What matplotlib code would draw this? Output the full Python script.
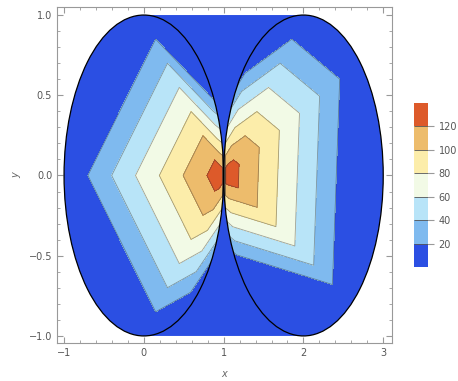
import numpy as np
import matplotlib
matplotlib.use("Agg")
import matplotlib.pyplot as plt
import matplotlib.tri as mtri
from matplotlib.patches import Circle, Polygon, PathPatch
from matplotlib.path import Path

# sampled field: one peak on each side of the contact point (1, 0),
# plus a ring of samples around each peak where the field is zero
peak_x = [0.985, 1.03]
peak_y = [0.0, 0.0]
peak_val = [133.0, 133.0]

left_ring_x = [0.0, -1.0, 0.0, 0.515, 1.0, 1.0, 0.819]
left_ring_y = [1.0, 0.0, -1.0, -0.857, -0.5, 0.5, 0.574]

right_ring_x = [2.0, 1.309, 1.0, 1.0, 1.185, 2.6, 2.707]
right_ring_y = [1.0, 0.749, 0.5, -0.5, -0.582, -0.8, 0.707]
rim_val = 0.0

levels = [0, 20, 40, 60, 80, 100, 120, 140]
fill_colors = ["#2b4fe3", "#7fbaef", "#b8e4f8", "#f2fae6",
               "#fcedaa", "#edbc6c", "#dd5a2a"]
cbar_ticks = [20, 40, 60, 80, 100, 120]

# build point list and fan triangles (peak + consecutive ring samples)
xs = list(peak_x) + left_ring_x + right_ring_x
ys = list(peak_y) + left_ring_y + right_ring_y
zs = list(peak_val) + [rim_val] * (len(left_ring_x) + len(right_ring_x))

tris = []
start = len(peak_x)
for k, ring in enumerate([left_ring_x, right_ring_x]):
    n = len(ring)
    for i in range(n):
        tris.append([k, start + i, start + (i + 1) % n])
    start += n

tri = mtri.Triangulation(xs, ys, tris)

fig = plt.figure(figsize=(4.58, 3.81), dpi=100)
ax = fig.add_axes([0.1245, 0.0997, 0.7314, 0.8819])

# region covered by the plot: the two disks and the band between them
t_r = np.linspace(np.pi / 2, -np.pi / 2, 100)
t_l = np.linspace(3 * np.pi / 2, np.pi / 2, 100)
hull = np.vstack([
    np.column_stack([2 + np.cos(t_r), np.sin(t_r)]),
    np.column_stack([np.cos(t_l), np.sin(t_l)]),
])
ax.add_patch(Polygon(hull, closed=True, facecolor=fill_colors[0],
                     edgecolor="none", zorder=1))

# the field only lives inside the two disks
disks = Path.make_compound_path(Path.circle((0, 0), 1), Path.circle((2, 0), 1))
clip = PathPatch(disks, transform=ax.transData, facecolor="none",
                 edgecolor="none")
ax.add_patch(clip)

cs = ax.tricontourf(tri, zs, levels=levels, colors=fill_colors, zorder=2)
cl = ax.tricontour(tri, zs, levels=levels[1:-1], colors="#333333",
                   linewidths=0.6, alpha=0.45, zorder=3)
cs.set_clip_path(clip)
cl.set_clip_path(clip)

for cx in (0, 2):
    ax.add_patch(Circle((cx, 0), 1, fill=False, edgecolor="black",
                        linewidth=0.9, zorder=4))

ax.set_xlim(-1.088, 3.11)
ax.set_ylim(-1.044, 1.05)
ax.set_xticks([-1, 0, 1, 2, 3])
ax.set_xticks(np.arange(-1, 3.01, 0.2), minor=True)
ax.set_yticks([-1.0, -0.5, 0.0, 0.5, 1.0])
ax.set_yticks(np.arange(-1, 1.01, 0.1), minor=True)
ax.tick_params(which="both", direction="in", top=True, right=True,
               color="#999999", labelsize=7, labelcolor="#555555")
ax.tick_params(which="major", length=4)
ax.tick_params(which="minor", length=2)
for s in ax.spines.values():
    s.set_color("#999999")
ax.set_xlabel("x", fontsize=7, style="italic", color="#666666", labelpad=8)
ax.set_ylabel("y", fontsize=7, style="italic", color="#666666", labelpad=5)

cax = fig.add_axes([0.904, 0.2992, 0.0306, 0.4304])
cb = fig.colorbar(cs, cax=cax, ticks=cbar_ticks, drawedges=True)
cb.outline.set_visible(False)
cb.dividers.set_color("#555555")
cb.dividers.set_linewidth(0.6)
cax.tick_params(direction="out", length=4, color="#999999", labelsize=7,
                labelcolor="#555555")

fig.savefig("out.png", dpi=100)
